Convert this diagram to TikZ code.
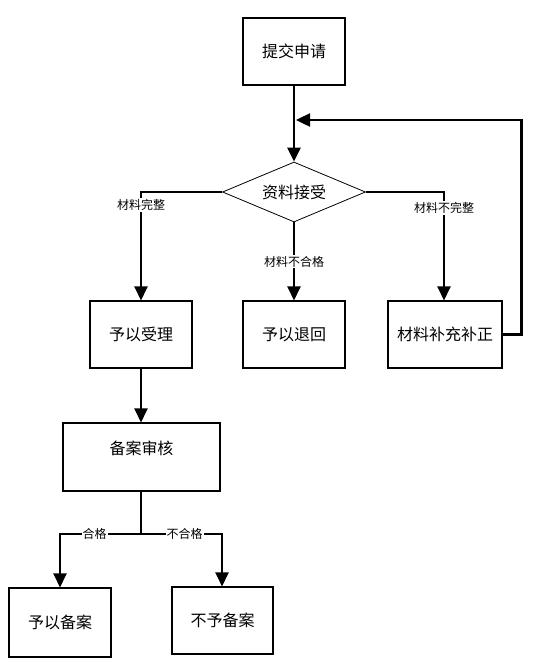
\documentclass[tikz,border=0pt]{standalone}
\usepackage{fontspec}
\setmainfont{Noto Sans CJK SC}
\usetikzlibrary{arrows.meta,shapes.geometric}
\begin{document}
\begin{tikzpicture}[x=1pt,y=-1pt,
  box/.style={draw,line width=1.1pt,inner sep=0pt,font=\fontsize{16}{18}\selectfont},
  conn/.style={line width=2.4pt,-{Triangle[length=14pt,width=13pt]}},
  plain/.style={line width=2.4pt},
  lbl/.style={fill=white,inner sep=1pt,font=\fontsize{12}{14}\selectfont}]
\fill[white] (0,0) rectangle (538,665);
\useasboundingbox (0,0) rectangle (538,665);
\node[box,minimum width=102pt,minimum height=67pt] (submit) at (294,51.5) {提交申请};
\node[draw,line width=0.8pt,shape=diamond,aspect=2.38,minimum width=143pt,minimum height=60pt,inner sep=0pt,font=\fontsize{16}{18}\selectfont] (dec) at (294,192) {资料接受};
\node[box,minimum width=102pt,minimum height=67pt] (accept) at (141,334.5) {予以受理};
\node[box,minimum width=102pt,minimum height=67pt] (ret) at (294,334.5) {予以退回};
\node[box,minimum width=114pt,minimum height=67pt] (fix) at (445,334.5) {材料补充补正};
\node[box,minimum width=157pt,minimum height=68pt,text height=12pt,text depth=17pt] (rev) at (141.5,457) {备案审核};
\node[box,minimum width=102pt,minimum height=69pt] (ok) at (60,622.5) {予以备案};
\node[box,minimum width=101pt,minimum height=67pt] (no) at (222.5,620.5) {不予备案};
\coordinate (fb) at (296,120);
\coordinate (split) at (141,534);
% connectors
\draw[conn] (submit.south) -- (dec.north);
\draw[conn] (fix.east) -- ++(19,0) |- (fb);
\draw[conn] (dec.west) -| node[lbl,pos=0.56] {材料完整} (accept.north);
\draw[conn] (dec.south) -- node[lbl,pos=0.5] {材料不合格} (ret.north);
\draw[conn] (dec.east) -| node[lbl,pos=0.574] {材料不完整} ([xshift=-1pt]fix.north);
\draw[conn] (accept.south) -- (accept.south |- rev.north);
\draw[plain] ([xshift=-0.5pt]rev.south) -- (split);
\draw[conn] (split) -| node[lbl,pos=0.287] {合格} (ok.north);
\draw[conn] (split) -| node[lbl,pos=0.27] {不合格} ([xshift=-0.5pt]no.north);
\end{tikzpicture}
\end{document}
